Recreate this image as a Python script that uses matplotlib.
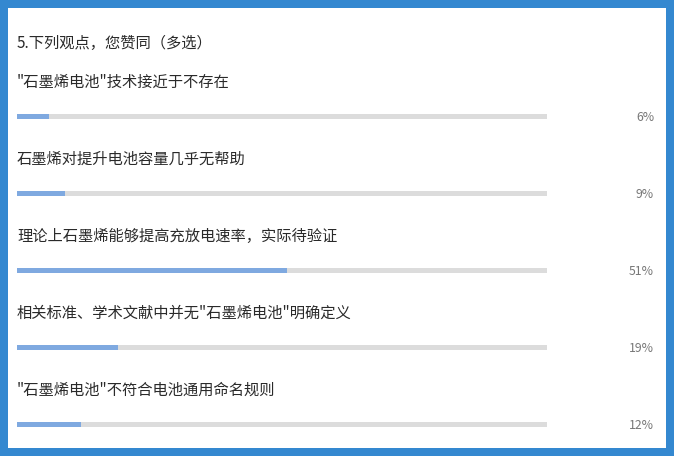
import matplotlib.pyplot as plt
import matplotlib.patches as patches

plt.rcParams['font.family'] = ['Noto Sans CJK SC', 'DejaVu Sans']

title = "5.下列观点，您赞同（多选）"
options = [
    "\"石墨烯电池\"技术接近于不存在",
    "石墨烯对提升电池容量几乎无帮助",
    "理论上石墨烯能够提高充放电速率，实际待验证",
    "相关标准、学术文献中并无\"石墨烯电池\"明确定义",
    "\"石墨烯电池\"不符合电池通用命名规则",
]
percents = [6, 9, 51, 19, 12]

W, H = 674, 456
fig = plt.figure(figsize=(W / 100, H / 100 + 0.002), dpi=100)

# blue frame round the white panel
border = "#3488D0"
fig.patches.append(patches.Rectangle((0, 0), 1, 1, transform=fig.transFigure,
                                     facecolor=border, edgecolor="none", zorder=-2))
fig.patches.append(patches.Rectangle((8 / W, 8 / H), (666 - 8) / W, (448 - 8) / H,
                                     transform=fig.transFigure, facecolor="white",
                                     edgecolor="none", zorder=-1))

# axes: x from 0..100 over the track, y in item units (row spacing 77px, first row at 117px)
track_l, track_r = 17, 547
row0, step = 117, 77
ax = fig.add_axes([track_l / W, 0, (track_r - track_l) / W, 1])
ax.set_zorder(5)
ax.set_xlim(0, 100)
ax.set_ylim((H - row0) / step, -row0 / step)
ax.axis("off")
ax.patch.set_alpha(0)

n = len(options)
ys = list(range(n))
ax.barh(ys, [100] * n, height=5 / step, color="#DCDCDC", left=0)
ax.barh(ys, percents, height=5 / step, color="#7FA9E0", left=0)

for i, (txt, p) in enumerate(zip(options, percents)):
    ax.text(0, i - 35 / step, txt, fontsize=11, color="#2a2a2a",
            ha="left", va="center", clip_on=False)
    ax.text(120.2, i, "{}%".format(p), fontsize=8.8, color="#777777",
            ha="right", va="center", clip_on=False)

ax.text(0, -74 / step, title, fontsize=11, color="#2a2a2a",
        ha="left", va="center", clip_on=False)

fig.savefig("out.png", dpi=100)
